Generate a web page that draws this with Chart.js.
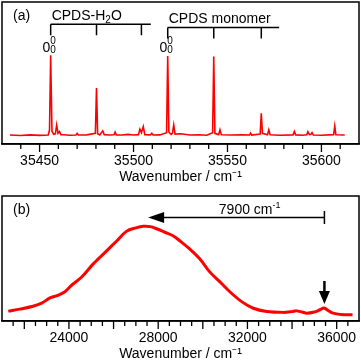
<!DOCTYPE html>
<html>
<head>
<meta charset="utf-8">
<script src="https://cdn.jsdelivr.net/npm/chart.js@4.4.1/dist/chart.umd.min.js"></script>
<style>
  html, body { margin: 0; padding: 0; background: #fff; }
  #wrap { position: relative; width: 361px; height: 361px; overflow: hidden; }
  #chartA { position: absolute; left: 0; top: 0; }
  #chartB { position: absolute; left: 0; top: 184px; }
</style>
</head>
<body>
<div id="wrap">
  <canvas id="chartA" width="361" height="184"></canvas>
  <canvas id="chartB" width="361" height="177"></canvas>
</div>
<script>
// panel (a): high resolution spectrum, wavenumber / intensity (arb.)
const wnA = [
  35434.2, 35440, 35445, 35450, 35454.6,
  35455.3, 35455.9, 35456.6, 35457.5, 35458.4, 35459.1, 35459.8, 35460.6, 35461.3,
  35463, 35466, 35469.4, 35470, 35470.6, 35475,
  35479.7, 35480.3, 35480.9, 35482, 35483.6, 35484.4, 35487,
  35489.6, 35490.2, 35490.8, 35494, 35497, 35500,
  35502.6, 35503.4, 35504.2, 35505.2, 35506, 35509, 35509.7, 35510.4, 35514,
  35517.6, 35518.2, 35518.8, 35520, 35520.7, 35521.4, 35522.1, 35525, 35530, 35535, 35539,
  35542.1, 35542.7, 35543.3, 35545.3, 35546, 35546.7, 35552, 35558,
  35561.7, 35562.3, 35562.9, 35567.4, 35568, 35568.6, 35571.3, 35572, 35572.7, 35578,
  35584.9, 35585.6, 35586.3, 35590, 35592.2, 35592.8, 35593.6, 35594.4, 35595, 35595.7,
  35600, 35606.5, 35607.1, 35607.7, 35612.4
]
const intA = [
  0.3, 0.0, 0.4, 0.1, 0.3,
  4, 56.5, 3, 0.8, 1.2, 7.4, 1.5, 2.8, 0.6,
  0.5, 0.2, 0.3, 1.5, 0.3, 0.4,
  1.5, 33.4, 1.2, 0.4, 3.3, 0.6, 0.3,
  0.5, 2.4, 0.4, 0.3, 0.8, 0.3,
  0.6, 4.4, 2.0, 6.3, 0.6, 0.4, 1.5, 0.3, 0.4,
  2, 56, 2.5, 0.8, 1.5, 7.4, 1, 1.2, 0.3, 0.5, 0.2,
  2, 55.6, 1.5, 0.6, 4, 0.5, 0.3, 0.4,
  0.3, 1.7, 0.3, 1, 15.6, 1.5, 0.5, 4, 0.5, 0.2,
  0.4, 2.8, 0.4, 0.2, 0.5, 2.6, 0.6, 0.8, 2, 0.3,
  0.2, 0.6, 6.7, 0.5, 0.3
]

// panel (b): broad band spectrum
const wnB = [
  21280, 21800, 22390, 22800, 23150, 23500, 23820, 24120, 24570, 25090,
  25690, 26140, 26590, 27000, 27330, 27650, 27930, 28300, 28680, 28980,
  29420, 29870, 30320, 30770, 31210, 31740, 32260, 32860, 33600, 34000,
  34200, 34450, 34650, 35000, 35250, 35430, 35650, 35840, 36290, 36710
]
const intB = [
  7.9, 9.5, 11.8, 14.5, 18.5, 20.5, 23.4, 28.6, 35.2, 45.7,
  56.1, 64, 71.9, 74.5, 75.8, 75.5, 73.8, 71, 68, 64,
  57.5, 49.6, 39.1, 31.3, 23.4, 15.5, 10.2, 7.6, 6.9, 7.5,
  8.1, 7.2, 6.3, 7.2, 9, 10.4, 8, 6.3, 5, 5
]

// tick labels
const labelsA = [35450, 35500, 35550, 35600]
const labelsB = [24000, 28000, 32000, 36000]

// assignments
const h2oBands = [35455.9, 35480.3, 35504.2]
const monomerBands = [35518.2, 35542.7, 35568.0]
const shiftFrom = 35450, shiftSize = 7900

const FONT = "'Liberation Sans', Arial, sans-serif"
const RED = '#ff0000'

const buildTicks = (from, to, step) => {
  let arr = []
  for (let v = from; v <= to; v += step) arr.push(v)
  return arr
}
const ticksA = buildTicks(35440, 35610, 10)
const ticksB = buildTicks(21500, 36500, 500)

const toPoints = (xs, ys) => xs.map((x, i) => ({x: x, y: ys[i]}))

// text with a lowered / raised part, e.g. H2O, cm-1
const drawRich = (ctx, parts, x, y, align) => {
  let w = 0
  parts.forEach(p => {
    ctx.font = `${p.size}px ${FONT}`
    p.w = ctx.measureText(p.t).width
    w += p.w
  })
  let cx = align === 'center' ? x - w / 2 : x
  parts.forEach(p => {
    ctx.font = `${p.size}px ${FONT}`
    ctx.fillText(p.t, cx, y + (p.dy || 0))
    cx += p.w
  })
}

// frame + tick marks, shared by both panels
const framePlugin = {
  id: 'frame',
  afterDraw(chart) {
    const {ctx, chartArea: a, scales: {x}} = chart
    const o = chart.options.plugins.frame
    ctx.save()
    ctx.strokeStyle = '#000'
    ctx.lineWidth = 1.5
    ctx.strokeRect(a.left, a.top, a.right - a.left, a.bottom - a.top)
    ctx.lineWidth = 1.3
    o.ticks.forEach(v => {
      let px = x.getPixelForValue(v),
          len = v % o.major === 0 ? 8 : 5
      ctx.beginPath()
      ctx.moveTo(px, a.bottom)
      ctx.lineTo(px, a.bottom + len)
      ctx.stroke()
    })
    ctx.fillStyle = '#000'
    ctx.textBaseline = 'alphabetic'
    ctx.textAlign = 'left'
    ctx.font = `14px ${FONT}`
    ctx.fillText(o.tag, a.left + 11, a.top + 18)
    ctx.restore()
  }
}

const bracket = (ctx, x, bands, end, ly, tick) => {
  let x0 = x.getPixelForValue(bands[0])
  ctx.beginPath()
  ctx.moveTo(x0, ly)
  ctx.lineTo(x.getPixelForValue(end), ly)
  bands.forEach(b => {
    let px = x.getPixelForValue(b)
    ctx.moveTo(px, ly)
    ctx.lineTo(px, ly + tick)
  })
  ctx.stroke()
  return x0
}

const originLabel = (ctx, px) => {
  ctx.textAlign = 'right'
  ctx.font = `14px ${FONT}`
  ctx.fillText('0', px - 0.5, 52)
  ctx.textAlign = 'left'
  ctx.font = `10px ${FONT}`
  ctx.fillText('0', px - 0.5, 44)
  ctx.fillText('0', px - 0.5, 53)
}

const notesA = {
  id: 'notesA',
  afterDraw(chart) {
    const {ctx, scales: {x}} = chart
    ctx.save()
    ctx.strokeStyle = '#000'
    ctx.fillStyle = '#000'
    ctx.lineWidth = 1.5
    let h0 = bracket(ctx, x, h2oBands, 35509.2, 24.3, 11)
    let m0 = bracket(ctx, x, monomerBands, 35577.5, 27.5, 11)
    ctx.textAlign = 'left'
    drawRich(ctx, [
      {t: 'CPDS-H', size: 14},
      {t: '2', size: 10, dy: 3},
      {t: 'O', size: 14}
    ], h0 + 1, 20, 'left')
    drawRich(ctx, [{t: 'CPDS monomer', size: 14}], m0 + 1, 23, 'left')
    originLabel(ctx, h0)
    originLabel(ctx, m0)
    ctx.restore()
  }
}

const notesB = {
  id: 'notesB',
  afterDraw(chart) {
    const {ctx, scales: {x}, chartArea: a} = chart
    ctx.save()
    ctx.strokeStyle = '#000'
    ctx.fillStyle = '#000'
    ctx.lineWidth = 1.5
    let bar = x.getPixelForValue(shiftFrom),
        tip = x.getPixelForValue(shiftFrom - shiftSize),
        ly = a.top + 21.5
    // horizontal shift arrow
    ctx.beginPath()
    ctx.moveTo(bar, ly - 6.5)
    ctx.lineTo(bar, ly + 6.5)
    ctx.moveTo(bar, ly)
    ctx.lineTo(tip + 14, ly)
    ctx.stroke()
    ctx.beginPath()
    ctx.moveTo(tip, ly)
    ctx.lineTo(tip + 16, ly - 5.5)
    ctx.lineTo(tip + 16, ly + 5.5)
    ctx.closePath()
    ctx.fill()
    ctx.textAlign = 'left'
    drawRich(ctx, [
      {t: '7900 cm', size: 14},
      {t: '-1', size: 9, dy: -6}
    ], x.getPixelForValue(32100), a.top + 18, 'center')
    // down arrow marking the origin
    let ax = x.getPixelForValue(shiftFrom)
    ctx.lineWidth = 2.5
    ctx.beginPath()
    ctx.moveTo(ax, a.top + 85)
    ctx.lineTo(ax, a.top + 97)
    ctx.stroke()
    ctx.beginPath()
    ctx.moveTo(ax, a.top + 108)
    ctx.lineTo(ax - 5.5, a.top + 95)
    ctx.lineTo(ax + 5.5, a.top + 95)
    ctx.closePath()
    ctx.fill()
    ctx.restore()
  }
}

const xAxis = (min, max, ticks, labels) => ({
  type: 'linear',
  min: min,
  max: max,
  afterBuildTicks: s => { s.ticks = ticks.map(v => ({value: v})) },
  ticks: {
    autoSkip: false,
    maxRotation: 0,
    padding: 2,
    color: '#000',
    font: {family: FONT, size: 14, lineHeight: 1},
    callback: v => labels.includes(v) ? String(v) : ''
  },
  grid: {drawOnChartArea: false, drawTicks: true, tickLength: 8, tickColor: 'rgba(0,0,0,0)'},
  border: {display: true, color: '#000', width: 1.5},
  title: {
    display: true,
    text: 'Wavenumber / cm⁻¹',
    color: '#000',
    font: {family: FONT, size: 14, lineHeight: 1},
    padding: {top: 0, bottom: 0}
  }
})

const createChart = (id, points, width, xScale, yMin, yMax, pad, frame, notes) => {
  let ctx = document.getElementById(id).getContext('2d')
  return new Chart(ctx, {
    type: 'line',
    data: {
      datasets: [{
        data: points,
        borderColor: RED,
        borderWidth: width,
        pointRadius: 0,
        tension: width > 2 ? 0.35 : 0,
        fill: false
      }]
    },
    options: {
      responsive: false,
      animation: false,
      layout: {padding: pad},
      plugins: {legend: {display: false}, tooltip: {enabled: false}, frame: frame},
      scales: {
        x: xScale,
        y: {display: false, min: yMin, max: yMax}
      }
    },
    plugins: [framePlugin, notes]
  })
}

createChart('chartA', toPoints(wnA, intA), 1.6,
  xAxis(35430, 35620, ticksA, labelsA), -6, 94,
  {left: 2, right: 2, top: 2, bottom: 0},
  {ticks: ticksA, major: 50, tag: '(a)'}, notesA)

createChart('chartB', toPoints(wnB, intB), 3,
  xAxis(21000, 37000, ticksB, labelsB), 0, 100,
  {left: 2, right: 2, top: 12, bottom: 0},
  {ticks: ticksB, major: 2000, tag: '(b)'}, notesB)
</script>
</body>
</html>
